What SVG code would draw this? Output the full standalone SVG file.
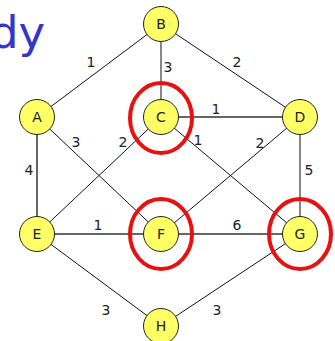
<svg xmlns="http://www.w3.org/2000/svg" width="335" height="341" viewBox="0 0 335 341">
<style>
.n circle{fill:#ffff66;stroke:#222;stroke-width:1}
.n text,.w{font-family:"DejaVu Sans",Verdana,sans-serif;font-size:14px;fill:#222;text-anchor:middle;dominant-baseline:central}
.e{stroke:#111;stroke-width:1}
.g{stroke:#666;stroke-width:2}
.r{fill:none;stroke:#e81010;stroke-width:4}
</style>
<rect width="335" height="341" fill="#fff"/>
<text x="-10" y="48" font-family="DejaVu Sans, Verdana, sans-serif" font-size="45" fill="#3535cc">dy</text>
<g id="connectors">
<line class="e" x1="37" y1="117" x2="161" y2="24"/>
<line class="e" x1="161" y1="24" x2="161" y2="117"/>
<line class="e" x1="161" y1="24" x2="300" y2="117"/>
<line class="g" x1="161" y1="117" x2="300" y2="117"/>
<line class="g" x1="37" y1="117" x2="37" y2="234"/>
<line class="e" x1="37" y1="117" x2="161" y2="234"/>
<line class="e" x1="161" y1="117" x2="37" y2="234"/>
<line class="e" x1="161" y1="117" x2="300" y2="234"/>
<line class="e" x1="300" y1="117" x2="161" y2="234"/>
<line class="e" x1="300" y1="117" x2="300" y2="234"/>
<line class="g" x1="37" y1="234" x2="300" y2="234"/>
<line class="e" x1="37" y1="234" x2="161" y2="326"/>
<line class="e" x1="300" y1="234" x2="161" y2="326"/>
</g>
<g id="weights">
<text class="w" x="91" y="62">1</text>
<text class="w" x="168" y="67">3</text>
<text class="w" x="237" y="62">2</text>
<text class="w" x="216" y="109">1</text>
<text class="w" x="76" y="142">3</text>
<text class="w" x="123" y="142">2</text>
<text class="w" x="198" y="140">1</text>
<text class="w" x="260" y="143">2</text>
<text class="w" x="29" y="170">4</text>
<text class="w" x="309" y="170">5</text>
<text class="w" x="98" y="225">1</text>
<text class="w" x="237" y="225">6</text>
<text class="w" x="106" y="310">3</text>
<text class="w" x="217" y="310">3</text>
</g>
<g id="B" class="n"><circle cx="161" cy="24" r="17.5"/><text x="161" y="24">B</text></g>
<g id="A" class="n"><circle cx="37" cy="117" r="17.5"/><text x="37" y="117">A</text></g>
<g id="C" class="n"><circle cx="161" cy="117" r="17.5"/><text x="161" y="117">C</text><ellipse class="r" cx="161" cy="118" rx="31" ry="35"/></g>
<g id="D" class="n"><circle cx="300" cy="117" r="17.5"/><text x="300" y="117">D</text></g>
<g id="E" class="n"><circle cx="37" cy="234" r="17.5"/><text x="37" y="234">E</text></g>
<g id="F" class="n"><circle cx="161" cy="234" r="17.5"/><text x="161" y="234">F</text><ellipse class="r" cx="161" cy="234" rx="31" ry="35"/></g>
<g id="G" class="n"><circle cx="300" cy="234" r="17.5"/><text x="300" y="234">G</text><ellipse class="r" cx="300" cy="234" rx="31" ry="35"/></g>
<g id="H" class="n"><circle cx="161" cy="326" r="17.5"/><text x="161" y="326">H</text></g>
</svg>
